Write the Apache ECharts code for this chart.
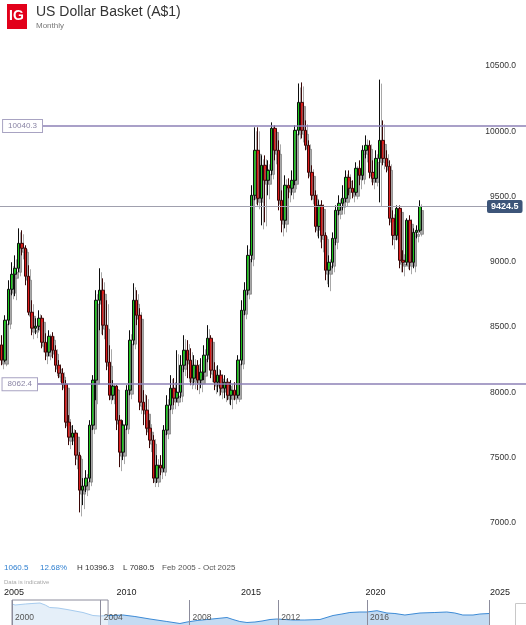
<!DOCTYPE html>
<html>
<head>
<meta charset="utf-8">
<title>US Dollar Basket (A$1)</title>
<script src="https://cdn.jsdelivr.net/npm/echarts@6/dist/echarts.min.js"></script>
<style>
html, body { margin: 0; padding: 0; background: #fff; }
#chart { width: 526px; height: 625px; }
</style>
</head>
<body>
<div id="chart"></div>
<script>
// candles (open / close / low / high)
var opens = [
  8364, 8247, 8553, 8790, 8905, 8951, 9142, 9104, 8890, 8614,
  8492, 8507, 8568, 8384, 8308, 8430, 8323, 8208, 8147, 8063,
  7772, 7657, 7688, 7519, 7251, 7282, 7343, 7749, 8094, 8706,
  8783, 8515, 8231, 7978, 8048, 7787, 7542, 7749, 8017, 8400,
  8706, 8591, 7925, 7864, 7726, 7634, 7343, 7442, 7419, 7711,
  7902, 8032, 7956, 8001, 8208, 8323, 8247, 8109, 8208, 8094,
  8155, 8285, 8415, 8170, 8078, 8132, 8032, 8078, 7978, 8017,
  7978, 8247, 8629, 8783, 9050, 9510, 9855, 9487, 9740, 9625,
  9701, 10023, 9855, 9472, 9319, 9587, 9564, 9625, 10008, 10222,
  10008, 9893, 9686, 9510, 9272, 9433, 9203, 8936, 8997, 9180,
  9395, 9449, 9487, 9648, 9564, 9533, 9717, 9663, 9855, 9893,
  9686, 9640, 9793, 9931, 9793, 9732, 9334, 9203, 9410, 9012,
  8997, 9319, 8997, 9226, 9242
];
var closes = [
  8247, 8553, 8790, 8905, 8951, 9142, 9104, 8890, 8614, 8492,
  8507, 8568, 8384, 8308, 8430, 8323, 8208, 8147, 8063, 7772,
  7657, 7688, 7519, 7251, 7282, 7343, 7749, 8094, 8706, 8783,
  8515, 8231, 7978, 8048, 7787, 7542, 7749, 8017, 8400, 8706,
  8591, 7925, 7864, 7726, 7634, 7343, 7442, 7419, 7711, 7902,
  8032, 7956, 8001, 8208, 8323, 8247, 8109, 8208, 8094, 8155,
  8285, 8415, 8170, 8078, 8132, 8032, 8078, 7978, 8017, 7978,
  8247, 8629, 8783, 9050, 9510, 9855, 9487, 9740, 9625, 9701,
  10023, 9855, 9472, 9319, 9587, 9564, 9625, 10008, 10222, 10008,
  9893, 9686, 9510, 9272, 9433, 9203, 8936, 8997, 9180, 9395,
  9449, 9487, 9648, 9564, 9533, 9717, 9663, 9855, 9893, 9686,
  9640, 9793, 9931, 9793, 9732, 9334, 9203, 9410, 9012, 8997,
  9319, 8997, 9226, 9242, 9424.5
];
var lows = [
  8208, 8231, 8515, 8744, 8737, 8920, 9050, 8821, 8591, 8438,
  8446, 8476, 8338, 8247, 8277, 8262, 8155, 8109, 8017, 7726,
  7596, 7596, 7442, 7080.5, 7136, 7236, 7312, 7711, 7940, 8476,
  8438, 8170, 7940, 7940, 7711, 7427, 7481, 7711, 7978, 8361,
  8515, 7864, 7749, 7672, 7573, 7305, 7305, 7366, 7389, 7672,
  7864, 7902, 7925, 7956, 8155, 8109, 8055, 8055, 8017, 8032,
  8094, 8231, 8109, 8017, 8001, 7978, 7956, 7940, 7902, 7940,
  7956, 8208, 8591, 8744, 8997, 9472, 9433, 9280, 9303, 9510,
  9663, 9778, 9395, 9226, 9257, 9487, 9510, 9587, 9969, 9946,
  9855, 9640, 9472, 9226, 9180, 9104, 8859, 8806, 8951, 9127,
  9357, 9395, 9456, 9510, 9487, 9510, 9587, 9625, 9793, 9640,
  9587, 9609, 9456, 9740, 9686, 9280, 9127, 9165, 8951, 8920,
  8974, 8936, 8951, 9180, 9226
];
var highs = [
  8438, 8591, 8859, 8997, 9050, 9257, 9242, 9127, 8974, 8706,
  8568, 8629, 8591, 8453, 8476, 8461, 8361, 8247, 8185, 8094,
  7826, 7749, 7711, 7542, 7343, 7404, 7787, 8132, 8783, 8951,
  8874, 8706, 8361, 8094, 8055, 7826, 7787, 8055, 8476, 8836,
  8783, 8645, 8017, 7978, 7787, 7672, 7519, 7519, 7749, 7978,
  8132, 8109, 8323, 8285, 8438, 8400, 8338, 8285, 8247, 8262,
  8361, 8515, 8438, 8231, 8208, 8170, 8132, 8109, 8094, 8078,
  8285, 8706, 8844, 9127, 9587, 10031, 10031, 9816, 9816, 9778,
  10069, 10046, 9931, 9548, 9663, 9640, 9701, 10046, 10367, 10375,
  10084, 9931, 9740, 9548, 9472, 9472, 9226, 9050, 9226, 9433,
  9510, 9587, 9701, 9701, 9625, 9763, 9778, 9893, 9969, 9931,
  9778, 9855, 10396.3, 10084, 9855, 9778, 9395, 9433, 9433, 9089,
  9334, 9357, 9257, 9280, 9472
];

var yTicks = [7000, 7500, 8000, 8500, 9000, 9500, 10000, 10500];
var levelLines = [10040.3, 8062.4];
var rangeText = 'Feb 2005 - Oct 2025';
var mainYears = [2005, 2010, 2015, 2020, 2025];

// navigator strip
var navTicks = [2000, 2004, 2008, 2012, 2016];
var navWinYears = [2000.0, 2000.14, 2000.6, 2000.9, 2001.26, 2001.5, 2001.7, 2002.07, 2002.48, 2002.84, 2003.2, 2003.65, 2003.97, 2004.33];
var navWinValues = [11250, 11000, 11250, 11375, 11500, 11000, 10375, 10250, 9875, 9500, 9125, 8375, 8250, 8375];
var navYears = [2004.33, 2004.55, 2005.0, 2005.54, 2006.22, 2006.98, 2007.57, 2007.89, 2008.34, 2008.79,
  2009.24, 2009.69, 2009.96, 2010.27, 2010.59, 2010.95, 2011.27, 2011.63, 2011.94, 2012.3,
  2012.66, 2013.2, 2013.88, 2014.47, 2014.87, 2015.23, 2015.68, 2016.0, 2016.45, 2016.9,
  2017.26, 2017.71, 2018.39, 2019.06, 2019.6, 2019.96, 2020.32, 2020.78, 2021.09, 2021.5];
var navValues = [8375, 8375, 8500, 8125, 7500, 6875, 6375, 6750, 7125, 7375,
  7625, 7875, 7375, 6875, 6625, 6750, 7000, 7375, 7500, 7375,
  7250, 7250, 7375, 8375, 8750, 9125, 9250, 9250, 9575, 9000,
  8875, 8500, 9000, 9125, 9250, 9000, 8500, 8500, 8750, 8875];

var candles = opens.map(function (o, i) { return [o, closes[i], lows[i], highs[i]]; });
var first = opens[0];
var last = closes[closes.length - 1];
var change = last - first;
var changePct = (change / first * 100).toFixed(2) + '%';
var hi = Math.max.apply(null, highs);
var lo = Math.min.apply(null, lows);

var font = 'Arial, "Liberation Sans", sans-serif';

var chart = echarts.init(document.getElementById('chart'));
chart.setOption({
  animation: false,
  backgroundColor: '#fff',
  textStyle: { fontFamily: font },
  title: {
    text: 'US Dollar Basket (A$1)',
    subtext: 'Monthly',
    left: 36,
    top: 5,
    padding: 0,
    itemGap: 3,
    textStyle: { fontSize: 14, fontWeight: 'normal', color: '#333', fontFamily: font },
    subtextStyle: { fontSize: 8, color: '#777', fontFamily: font }
  },
  graphic: [
    { type: 'rect', left: 7, top: 4, shape: { width: 20, height: 25 }, style: { fill: '#e2001a' } },
    { type: 'text', left: 9, top: 9, style: { text: 'IG', fill: '#fff', font: 'bold 14px ' + font } },
    { type: 'text', left: 4, top: 564, style: { text: change.toFixed(1), fill: '#2e7fd0', font: '8px ' + font } },
    { type: 'text', left: 40, top: 564, style: { text: changePct, fill: '#2e7fd0', font: '8px ' + font } },
    { type: 'text', left: 77, top: 564, style: { text: 'H ' + hi.toFixed(1), fill: '#333', font: '8px ' + font } },
    { type: 'text', left: 123, top: 564, style: { text: 'L ' + lo.toFixed(1), fill: '#333', font: '8px ' + font } },
    { type: 'text', left: 162, top: 564, style: { text: rangeText, fill: '#555', font: '8px ' + font } },
    { type: 'text', left: 4, top: 579, style: { text: 'Data is indicative', fill: '#aaa', font: '6px ' + font } },
    { type: 'rect', left: 515, top: 603, shape: { width: 14, height: 30 }, style: { fill: '#fff', stroke: '#c8c8c8', lineWidth: 1 } }
  ],
  grid: [
    { left: 0, right: 0, top: 40, height: 509 },
    { left: 12, right: 37, top: 600, bottom: 0 }
  ],
  xAxis: [
    {
      type: 'category', gridIndex: 0, min: 0, max: 154, boundaryGap: true,
      axisLine: { show: false }, axisTick: { show: false }, axisLabel: { show: false }, splitLine: { show: false }
    },
    {
      type: 'value', gridIndex: 0, min: 2005, max: 2026, interval: 5, position: 'bottom', offset: 31,
      axisLine: { show: false }, axisTick: { show: false }, splitLine: { show: false },
      axisLabel: {
        margin: 8, fontSize: 9, color: '#222', alignMinLabel: 'left', padding: [0, 0, 0, 4],
        formatter: function (v) { return mainYears.indexOf(v) >= 0 ? String(v) : ''; }
      }
    },
    {
      type: 'value', gridIndex: 1, min: 2000, max: 2021.5, z: 10,
      axisLine: { show: false }, axisTick: { show: false }, splitLine: { show: false },
      axisLabel: {
        inside: true, margin: 3, fontSize: 8.5, color: '#555', align: 'left', padding: [0, 0, 0, 3],
        customValues: navTicks,
        formatter: function (v) { return String(v); }
      }
    }
  ],
  yAxis: [
    {
      type: 'value', gridIndex: 0, min: 6800, max: 10700, interval: 100, position: 'right',
      axisLine: { show: false }, axisTick: { show: false }, splitLine: { show: false },
      axisLabel: {
        inside: true, margin: 7, fontSize: 8.5, color: '#333',
        formatter: function (v) { return yTicks.indexOf(v) >= 0 ? v.toFixed(1) : ''; }
      }
    },
    { type: 'value', gridIndex: 1, min: 6000, max: 12250, show: false }
  ],
  series: [
    {
      type: 'candlestick',
      xAxisIndex: 0,
      yAxisIndex: 0,
      barWidth: 3,
      data: candles,
      itemStyle: {
        color: '#1cc41c',
        color0: '#d91c1c',
        borderColor: '#0d0d0d',
        borderColor0: '#3a0606',
        borderWidth: 1,
        shadowColor: 'rgba(110,110,110,0.6)',
        shadowOffsetX: 2,
        shadowOffsetY: 4,
        shadowBlur: 0
      },
      markLine: {
        silent: true,
        symbol: 'none',
        animation: false,
        data: [
          [
            {
              x: 42, yAxis: levelLines[0], value: levelLines[0],
              lineStyle: { color: '#8d80b6', width: 1.5, type: 'solid' },
              label: {
                show: true, position: 'start', distance: 0, fontSize: 8, color: '#8a85a5',
                backgroundColor: '#fff', borderColor: '#a8a3c2', borderWidth: 1, padding: [2, 5],
                formatter: function (p) { return Number(p.value).toFixed(1); }
              }
            },
            { x: 526, yAxis: levelLines[0] }
          ],
          [
            {
              x: 37, yAxis: levelLines[1], value: levelLines[1],
              lineStyle: { color: '#8d80b6', width: 1.5, type: 'solid' },
              label: {
                show: true, position: 'start', distance: 0, fontSize: 8, color: '#8a85a5',
                backgroundColor: '#fff', borderColor: '#a8a3c2', borderWidth: 1, padding: [2, 5],
                formatter: function (p) { return Number(p.value).toFixed(1); }
              }
            },
            { x: 526, yAxis: levelLines[1] }
          ],
          [
            {
              x: 0, yAxis: last, value: last,
              lineStyle: { color: '#a0a0ae', width: 1, type: 'solid' },
              label: {
                show: true, position: 'end', distance: 0, fontSize: 9, fontWeight: 'bold', color: '#fff',
                backgroundColor: '#3d5579', borderRadius: 2, padding: [2, 4],
                formatter: function (p) { return Number(p.value).toFixed(1); }
              }
            },
            { x: 487, yAxis: last }
          ]
        ]
      }
    },
    {
      type: 'line',
      xAxisIndex: 2,
      yAxisIndex: 1,
      symbol: 'none',
      z: 1,
      data: navWinYears.map(function (y, i) { return [y, navWinValues[i]]; }),
      lineStyle: { color: '#a6cbee', width: 1 },
      areaStyle: { color: '#e5eff9', opacity: 1 },
      markArea: {
        silent: true,
        itemStyle: { color: 'rgba(0,0,0,0)', borderColor: '#8c8c9c', borderWidth: 1 },
        data: [[{ xAxis: navWinYears[0], yAxis: 12250 }, { xAxis: navWinYears[navWinYears.length - 1], yAxis: 6000 }]]
      }
    },
    {
      type: 'line',
      xAxisIndex: 2,
      yAxisIndex: 1,
      symbol: 'none',
      z: 1,
      data: navYears.map(function (y, i) { return [y, navValues[i]]; }),
      lineStyle: { color: '#3c8ad5', width: 1 },
      areaStyle: { color: '#c4dbf2', opacity: 1 },
      markLine: {
        silent: true,
        symbol: 'none',
        label: { show: false },
        lineStyle: { color: '#8c8c9c', width: 1, type: 'solid' },
        data: navTicks.concat([navYears[navYears.length - 1]]).map(function (v) { return { xAxis: v }; })
      }
    }
  ]
});
</script>
</body>
</html>
